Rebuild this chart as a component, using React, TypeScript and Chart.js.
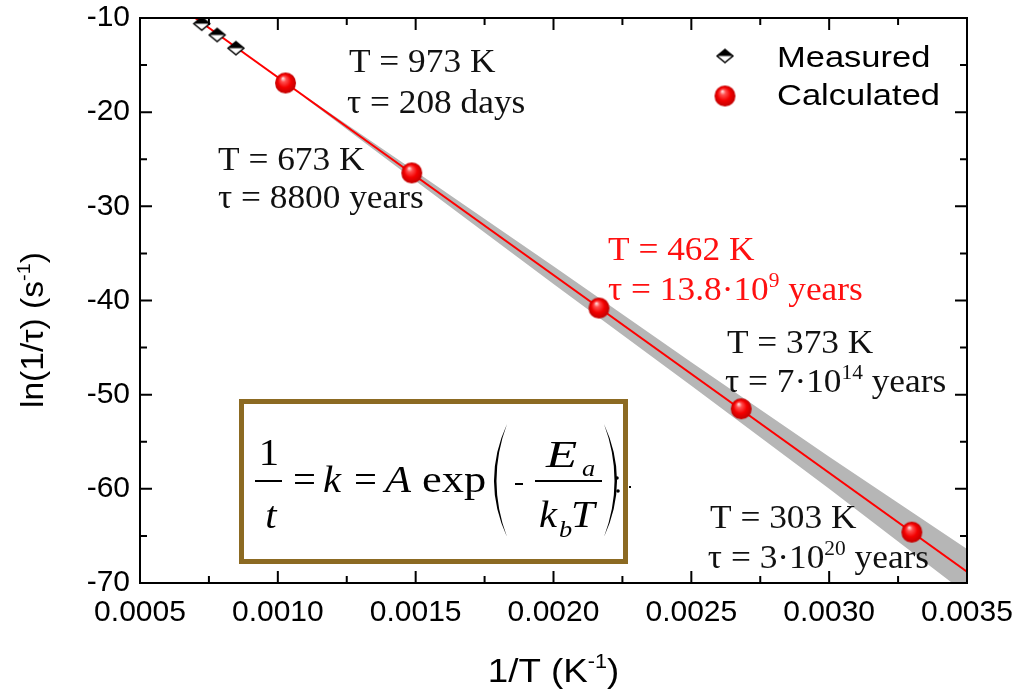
import React, { useEffect, useRef } from 'react';
import { Chart, registerables } from 'chart.js';

Chart.register(...registerables);

// ---- axis ranges & ticks ----
const xMin = 0.0005;
const xMax = 0.0035;
const yMin = -70;
const yMax = -10;
const xTickValues = [0.0005, 0.001, 0.0015, 0.002, 0.0025, 0.003, 0.0035];
const xMinorValues = [0.00075, 0.00125, 0.00175, 0.00225, 0.00275, 0.00325];
const yTickValues = [-70, -60, -50, -40, -30, -20, -10];
const yMinorValues = [-65, -55, -45, -35, -25, -15];

// ---- data ----
const measuredX = [0.000724, 0.00078, 0.000848];
const measuredY = [-10.6, -11.8, -13.2];
const calculatedX = [0.001028, 0.001486, 0.002165, 0.002681, 0.0033];
const calculatedY = [-16.9, -26.45, -40.8, -51.5, -64.6];
const fitX = [0.0007, 0.0035];
const fitY = [-10.0, -68.8];
const bandX = [0.0011, 0.0015, 0.002, 0.0025, 0.003, 0.0035];
const bandUpper = [-18.31, -26.31, -36.36, -46.55, -56.6, -66.4];
const bandLower = [-18.51, -27.31, -38.26, -49.05, -60.0, -71.2];

// ---- annotation texts (anchored in data units: left edge / baseline) ----
const annotationTexts = [
  'T = 973 K',
  'τ = 208 days',
  'T = 673 K',
  'τ = 8800 years',
  'T = 462 K',
  'τ = 13.8·10^{9} years',
  'T = 373 K',
  'τ = 7·10^{14} years',
  'T = 303 K',
  'τ = 3·10^{20} years',
];
const annotationX = [0.001258, 0.001251, 0.000783, 0.000783, 0.002198, 0.002198, 0.002629, 0.002622, 0.002568, 0.00256];
const annotationY = [-15.73, -20.09, -26.14, -30.18, -35.7, -39.95, -45.57, -49.72, -64.16, -68.4];
const annotationColors = ['#111', '#111', '#111', '#111', '#ff1010', '#ff1010', '#111', '#111', '#111', '#111'];

const legendLabels = ['Measured', 'Calculated'];

const SERIF = '"Liberation Serif", "Times New Roman", serif';
const SANS = '"Liberation Sans", Arial, sans-serif';

function parseRich(str: string) {
  const parts: { t: string; sup: boolean }[] = [];
  const re = /\^\{([^}]*)\}/g;
  let last = 0;
  let m: RegExpExecArray | null;
  while ((m = re.exec(str))) {
    if (m.index > last) parts.push({ t: str.slice(last, m.index), sup: false });
    parts.push({ t: m[1], sup: true });
    last = m.index + m[0].length;
  }
  if (last < str.length) parts.push({ t: str.slice(last), sup: false });
  return parts;
}

function drawRich(
  ctx: CanvasRenderingContext2D,
  str: string,
  x: number,
  y: number,
  size: number,
  family: string,
  color: string,
  sx: number,
  align: 'left' | 'center' = 'left',
  supScale = 0.62,
  supRaise = 0.4,
  style = ''
) {
  const parts = parseRich(str);
  ctx.save();
  ctx.translate(x, y);
  ctx.scale(sx, 1);
  ctx.textAlign = 'left';
  ctx.textBaseline = 'alphabetic';
  ctx.fillStyle = color;
  const fontFor = (sup: boolean) => `${style}${sup ? Math.round(size * supScale) : size}px ${family}`;
  let total = 0;
  parts.forEach((p) => {
    ctx.font = fontFor(p.sup);
    total += ctx.measureText(p.t).width;
  });
  let cx = align === 'center' ? -total / 2 : 0;
  parts.forEach((p) => {
    ctx.font = fontFor(p.sup);
    ctx.fillText(p.t, cx, p.sup ? -size * supRaise : 0);
    cx += ctx.measureText(p.t).width;
  });
  ctx.restore();
}

function txt(ctx: CanvasRenderingContext2D, s: string, x: number, y: number, font: string, sx = 1.1, align: CanvasTextAlign = 'left') {
  ctx.save();
  ctx.translate(x, y);
  ctx.scale(sx, 1);
  ctx.font = font;
  ctx.textAlign = align;
  ctx.textBaseline = 'alphabetic';
  ctx.fillStyle = '#000';
  ctx.fillText(s, 0, 0);
  ctx.restore();
}

function makeSphere(r: number) {
  const c = document.createElement('canvas');
  const s = Math.ceil(r * 2 + 2);
  c.width = s;
  c.height = s;
  const g = c.getContext('2d')!;
  const cx = s / 2;
  const cy = s / 2;
  const grad = g.createRadialGradient(cx - r * 0.25, cy - r * 0.45, r * 0.05, cx, cy, r);
  grad.addColorStop(0, '#ffd8d8');
  grad.addColorStop(0.22, '#ff5050');
  grad.addColorStop(0.6, '#f40000');
  grad.addColorStop(1, '#c00000');
  g.fillStyle = grad;
  g.beginPath();
  g.arc(cx, cy, r, 0, Math.PI * 2);
  g.fill();
  return c;
}

function makeDiamond(w: number, h: number) {
  const c = document.createElement('canvas');
  c.width = w + 4;
  c.height = h + 4;
  const g = c.getContext('2d')!;
  const cx = c.width / 2;
  const cy = c.height / 2;
  const path = () => {
    g.beginPath();
    g.moveTo(cx - w / 2, cy);
    g.lineTo(cx, cy - h / 2);
    g.lineTo(cx + w / 2, cy);
    g.lineTo(cx, cy + h / 2);
    g.closePath();
  };
  path();
  g.fillStyle = '#fff';
  g.fill();
  g.beginPath();
  g.moveTo(cx - w / 2, cy);
  g.lineTo(cx, cy - h / 2);
  g.lineTo(cx + w / 2, cy);
  g.closePath();
  g.fillStyle = '#000';
  g.fill();
  path();
  g.strokeStyle = '#000';
  g.lineWidth = 1.4;
  g.stroke();
  return c;
}

function drawParen(ctx: CanvasRenderingContext2D, x: number, top: number, bottom: number, bulge: number, thick: number) {
  const mid = (top + bottom) / 2;
  ctx.beginPath();
  ctx.moveTo(x, top);
  ctx.quadraticCurveTo(x + bulge, mid, x, bottom);
  ctx.quadraticCurveTo(x + bulge + (bulge < 0 ? thick : -thick), mid, x, top);
  ctx.closePath();
  ctx.fill();
}

const decorPlugin = {
  id: 'decor',
  afterDatasetsDraw(chart: any) {
    const { ctx, chartArea: a, scales } = chart;
    const xs = scales.x;
    const ys = scales.y;
    ctx.save();
    ctx.strokeStyle = '#000';
    ctx.lineWidth = 2;
    ctx.strokeRect(a.left, a.top, a.right - a.left, a.bottom - a.top);
    const major = 12;
    const minor = 7;
    const xt = (v: number, L: number) => {
      const px = xs.getPixelForValue(v);
      ctx.beginPath();
      ctx.moveTo(px, a.bottom);
      ctx.lineTo(px, a.bottom - L);
      ctx.moveTo(px, a.top);
      ctx.lineTo(px, a.top + L);
      ctx.stroke();
    };
    const yt = (v: number, L: number) => {
      const py = ys.getPixelForValue(v);
      ctx.beginPath();
      ctx.moveTo(a.left, py);
      ctx.lineTo(a.left + L, py);
      ctx.moveTo(a.right, py);
      ctx.lineTo(a.right - L, py);
      ctx.stroke();
    };
    xTickValues.forEach((v) => xt(v, major));
    xMinorValues.forEach((v) => xt(v, minor));
    yTickValues.forEach((v) => yt(v, major));
    yMinorValues.forEach((v) => yt(v, minor));
    ctx.restore();
  },
  afterDraw(chart: any) {
    const { ctx, chartArea: a, scales } = chart;
    const xs = scales.x;
    const ys = scales.y;
    ctx.save();

    // annotations
    annotationTexts.forEach((t, i) => {
      drawRich(ctx, t, xs.getPixelForValue(annotationX[i]), ys.getPixelForValue(annotationY[i]), 33, SERIF, annotationColors[i], 1.07);
    });

    // legend
    const lx = a.right - 242;
    const sphere = chart.$sphere as HTMLCanvasElement;
    const diamond = chart.$diamond as HTMLCanvasElement;
    ctx.drawImage(diamond, lx - diamond.width / 2, a.top + 38 - diamond.height / 2);
    ctx.drawImage(sphere, lx - sphere.width / 2, a.top + 78 - sphere.height / 2);
    drawRich(ctx, legendLabels[0], lx + 52, a.top + 49, 30, SANS, '#000', 1.15);
    drawRich(ctx, legendLabels[1], lx + 52, a.top + 87, 30, SANS, '#000', 1.15);

    // axis titles
    drawRich(ctx, '1/T (K^{-1})', (a.left + a.right) / 2, 682, 34, SANS, '#000', 1.08, 'center', 0.6, 0.42);
    ctx.save();
    ctx.translate(43, 330);
    ctx.rotate(-Math.PI / 2);
    drawRich(ctx, 'ln(1/τ) (s^{-1})', 0, 0, 32, SANS, '#000', 1.05, 'center', 0.6, 0.42);
    ctx.restore();

    // formula box
    ctx.strokeStyle = '#8c6a22';
    ctx.lineWidth = 5;
    ctx.strokeRect(241.5, 401.5, 384, 160);

    ctx.fillStyle = '#000';
    ctx.strokeStyle = '#000';
    const F = 37;
    const reg = `${F}px ${SERIF}`;
    const ita = `italic ${F}px ${SERIF}`;
    const sub = `italic 24px ${SERIF}`;
    txt(ctx, '1', 269, 465, reg, 1.1, 'center');
    ctx.fillRect(255, 480, 27, 2);
    txt(ctx, 't', 271, 528, ita, 1.1, 'center');
    txt(ctx, '=', 293, 492, reg, 1.1);
    txt(ctx, 'k', 323, 492, ita, 1.1);
    txt(ctx, '=', 354, 492, reg, 1.1);
    txt(ctx, 'A', 385, 492, ita, 1.15);
    txt(ctx, 'exp', 422, 492, reg, 1.2);
    drawParen(ctx, 507, 424, 537, -26, 5);
    ctx.fillRect(515, 483, 8, 2);
    ctx.fillRect(535, 480, 67, 2);
    txt(ctx, 'E', 546, 467, ita, 1.38);
    txt(ctx, 'a', 582, 476, sub, 1.1);
    txt(ctx, 'k', 539, 527, ita, 1.1);
    txt(ctx, 'b', 559, 537, sub, 1.1);
    txt(ctx, 'T', 571, 527, ita, 1.15);
    drawParen(ctx, 604, 424, 537, 26, 5);
    ctx.beginPath();
    ctx.arc(617, 478, 1.8, 0, Math.PI * 2);
    ctx.arc(618, 491, 1.8, 0, Math.PI * 2);
    ctx.fill();
    ctx.fillRect(629, 486, 2, 2);

    ctx.restore();
  },
};

export default function App() {
  const ref = useRef<HTMLCanvasElement | null>(null);
  useEffect(() => {
    if (!ref.current) return;
    const sphere = makeSphere(10.5);
    const diamond = makeDiamond(16, 13);
    const tickFont = { family: SANS, size: 30 };
    const chart = new Chart(ref.current, {
      type: 'scatter',
      data: {
        datasets: [
          {
            label: 'band upper',
            data: bandX.map((x, i) => ({ x, y: bandUpper[i] })),
            showLine: true,
            borderWidth: 0,
            borderColor: 'rgba(0,0,0,0)',
            backgroundColor: '#b6b6b6',
            pointRadius: 0,
            fill: '+1',
            order: 3,
          },
          {
            label: 'band lower',
            data: bandX.map((x, i) => ({ x, y: bandLower[i] })),
            showLine: true,
            borderWidth: 0,
            borderColor: 'rgba(0,0,0,0)',
            pointRadius: 0,
            fill: false,
            order: 3,
          },
          {
            label: 'fit',
            data: fitX.map((x, i) => ({ x, y: fitY[i] })),
            showLine: true,
            borderColor: '#ff0000',
            borderWidth: 2,
            pointRadius: 0,
            fill: false,
            order: 2,
          },
          {
            label: legendLabels[0],
            data: measuredX.map((x, i) => ({ x, y: measuredY[i] })),
            pointStyle: diamond as any,
            pointRadius: 8,
            order: 1,
          },
          {
            label: legendLabels[1],
            data: calculatedX.map((x, i) => ({ x, y: calculatedY[i] })),
            pointStyle: sphere as any,
            pointRadius: 10,
            order: 0,
          },
        ],
      },
      options: {
        responsive: false,
        animation: false,
        layout: { padding: { top: 18, right: 51, left: 0, bottom: 0 } },
        plugins: {
          legend: { display: false },
          tooltip: { enabled: false },
        },
        scales: {
          x: {
            type: 'linear',
            min: xMin,
            max: xMax,
            grid: { display: false, drawTicks: false },
            border: { display: false },
            ticks: {
              color: '#000',
              font: tickFont,
              padding: 12,
              maxRotation: 0,
              autoSkip: false,
              callback: (v: any) => Number(v).toFixed(4),
            },
            afterBuildTicks: (s: any) => {
              s.ticks = xTickValues.map((v) => ({ value: v }));
            },
            afterFit: (s: any) => {
              s.height = 107;
              s.paddingLeft = 0;
              s.paddingRight = 0;
            },
          },
          y: {
            type: 'linear',
            min: yMin,
            max: yMax,
            grid: { display: false, drawTicks: false },
            border: { display: false },
            ticks: {
              color: '#000',
              font: tickFont,
              padding: 10,
              autoSkip: false,
              callback: (v: any) => String(v),
            },
            afterBuildTicks: (s: any) => {
              s.ticks = yTickValues.map((v) => ({ value: v }));
            },
            afterFit: (s: any) => {
              s.width = 140;
              s.paddingTop = 0;
              s.paddingBottom = 0;
            },
          },
        },
      } as any,
      plugins: [
        {
          id: 'assets',
          beforeInit(c: any) {
            c.$sphere = sphere;
            c.$diamond = diamond;
          },
        },
        decorPlugin as any,
      ],
    });
    return () => chart.destroy();
  }, []);
  return (
    <div style={{ position: 'absolute', left: 0, top: 0, width: 1018, height: 690, background: '#fff' }}>
      <canvas ref={ref} width={1018} height={690} style={{ width: 1018, height: 690, display: 'block' }} />
    </div>
  );
}
